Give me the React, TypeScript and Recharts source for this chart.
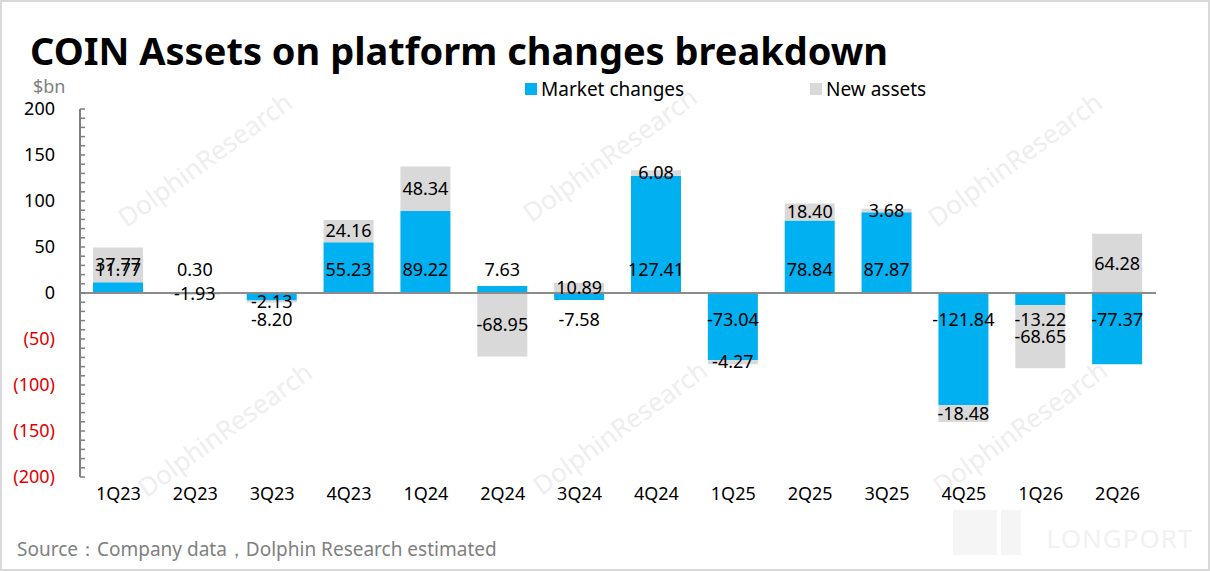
import { BarChart, Bar, XAxis, YAxis, ReferenceLine, LabelList } from 'recharts';

const quarters = ['1Q23', '2Q23', '3Q23', '4Q23', '1Q24', '2Q24', '3Q24', '4Q24', '1Q25', '2Q25', '3Q25', '4Q25', '1Q26', '2Q26'];
const marketChanges = [11.77, 0.3, -8.2, 55.23, 89.22, 7.63, -7.58, 127.41, -73.04, 78.84, 87.87, -121.84, -13.22, -77.37];
const newAssets = [37.77, -1.93, -2.13, 24.16, 48.34, -68.95, 10.89, 6.08, -4.27, 18.4, 3.68, -18.48, -68.65, 64.28];
const yTicks = [-200, -190, -180, -170, -160, -150, -140, -130, -120, -110, -100, -90, -80, -70, -60, -50, -40, -30, -20, -10, 0, 10, 20, 30, 40, 50, 60, 70, 80, 90, 100, 110, 120, 130, 140, 150, 160, 170, 180, 190, 200];

const BLUE = '#00B0F0';
const GREY = '#D9D9D9';
const FONT = '"Noto Sans", "Open Sans", sans-serif';

const data = quarters.map((q, i) => ({
  quarter: q,
  market: marketChanges[i],
  newAssets: newAssets[i],
}));

const legendItems = [
  { label: 'Market changes', color: BLUE, left: 525 },
  { label: 'New assets', color: GREY, left: 810 },
];

const watermarks = [
  [205, 160], [610, 155], [1015, 160],
  [225, 430], [620, 428], [1020, 428],
];

function box(props: any) {
  const vb = props.viewBox ?? props;
  const y = Number(vb.y);
  const h = Number(vb.height);
  return { x: Number(vb.x), y, w: Number(vb.width), h, top: Math.min(y, y + h), bottom: Math.max(y, y + h) };
}

// market labels sit near the zero line, like Excel's "inside base"
function MarketLabel(props: any) {
  const b = box(props);
  const v = Number(props.value);
  const cy = v >= 0 ? b.bottom - 23 : b.top + 27;
  return (
    <text x={b.x + b.w / 2} y={cy} dy="0.35em" textAnchor="middle" fontSize={18} fill="#000" fontFamily={FONT}>
      {v.toFixed(2)}
    </text>
  );
}

function NewLabel(props: any) {
  const b = box(props);
  const v = Number(props.value);
  return (
    <text x={b.x + b.w / 2} y={(b.top + b.bottom) / 2} dy="0.35em" textAnchor="middle" fontSize={18} fill="#000" fontFamily={FONT}>
      {v.toFixed(2)}
    </text>
  );
}

function YTick(props: any) {
  const { x, y, payload } = props;
  const v = payload.value as number;
  const axisX = x + 25;
  const showText = v % 50 === 0;
  return (
    <g>
      <line x1={axisX} x2={axisX + 5} y1={y} y2={y} stroke="#7f7f7f" strokeWidth={1.5} />
      {showText && (
        <text x={x} y={y} dy="0.35em" textAnchor="end" fontSize={18} fontFamily={FONT} fill={v < 0 ? '#E00000' : '#000'}>
          {v < 0 ? `(${Math.abs(v)})` : v}
        </text>
      )}
    </g>
  );
}

export default function App() {
  return (
    <div style={{ position: 'absolute', left: 0, top: 0, width: 1210, height: 571, background: '#fff', overflow: 'hidden', fontFamily: FONT }}>
      <svg width={1210} height={571} style={{ position: 'absolute', left: 0, top: 0 }}>
        {watermarks.map(([cx, cy], i) => (
          <text key={i} x={cx} y={cy} textAnchor="middle" dy="0.35em" fontSize={26} fill="#EEEEEE" fontFamily={FONT} transform={`rotate(-36 ${cx} ${cy})`}>
            DolphinResearch
          </text>
        ))}
        <text x={1120} y={548} textAnchor="middle" fontSize={26} fill="#F1F1F1" fontFamily={FONT} letterSpacing={1}>LONGPORT</text>
        <rect x={953} y={510} width={44} height={45} fill="#F5F5F5" />
        <rect x={1001} y={510} width={20} height={45} fill="#F5F5F5" />
      </svg>

      <div style={{ position: 'absolute', left: 30, top: 25, fontSize: 38, fontWeight: 700, color: '#000', whiteSpace: 'nowrap', lineHeight: '50px' }}>
        COIN Assets on platform changes breakdown
      </div>
      <div style={{ position: 'absolute', left: 33, top: 74, fontSize: 18, color: '#7f7f7f' }}>$bn</div>

      {legendItems.map((it) => (
        <div key={it.label} style={{ position: 'absolute', left: it.left, top: 76, display: 'flex', alignItems: 'center', fontSize: 19, color: '#000', whiteSpace: 'nowrap' }}>
          <span style={{ display: 'inline-block', width: 12, height: 12, background: it.color, marginRight: 4 }} />
          {it.label}
        </div>
      ))}

      <div style={{ position: 'absolute', left: 0, top: 0 }}>
        <BarChart width={1210} height={571} data={data} stackOffset="sign" margin={{ top: 109, right: 54, bottom: 54, left: 0 }}>
          <XAxis dataKey="quarter" axisLine={false} tickLine={false} height={40} tickMargin={4} tick={{ fontSize: 18, fill: '#000', fontFamily: FONT }} interval={0} />
          <YAxis
            width={80}
            domain={[-200, 200]}
            ticks={yTicks}
            interval={0}
            tickLine={false}
            tickSize={0}
            tickMargin={25}
            axisLine={{ stroke: '#7f7f7f', strokeWidth: 2 }}
            tick={(p: any) => <YTick {...p} />}
          />
          <Bar dataKey="market" name="Market changes" stackId="a" fill={BLUE} barSize={50} isAnimationActive={false}>
            <LabelList dataKey="market" content={(p: any) => <MarketLabel {...p} />} />
          </Bar>
          <Bar dataKey="newAssets" name="New assets" stackId="a" fill={GREY} barSize={50} isAnimationActive={false}>
            <LabelList dataKey="newAssets" content={(p: any) => <NewLabel {...p} />} />
          </Bar>
          <ReferenceLine y={0} stroke="#8c8c8c" strokeWidth={2} />
        </BarChart>
      </div>

      <div style={{ position: 'absolute', left: 17, top: 536, fontSize: 19, color: '#808080', whiteSpace: 'nowrap' }}>
        Source：Company data，Dolphin Research estimated
      </div>
      <div style={{ position: 'absolute', left: 0, top: 0, width: 1210, height: 571, boxSizing: 'border-box', border: '2px solid #D9D9D9', pointerEvents: 'none' }} />
    </div>
  );
}
